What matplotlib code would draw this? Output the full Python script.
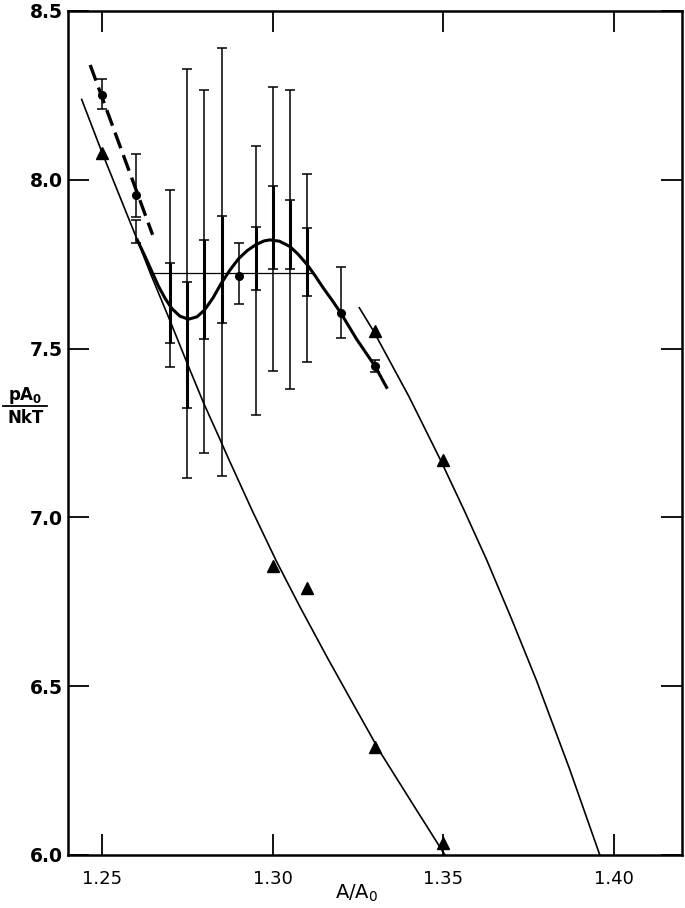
import matplotlib.pyplot as plt
from matplotlib.lines import Line2D

plt.rcParams['font.family'] = 'DejaVu Sans'
plt.rcParams['mathtext.default'] = 'regular'

# %% data
# circles (with error bars)
circ_x  = [1.25, 1.26, 1.29, 1.32, 1.33]
circ_y  = [8.25, 7.955, 7.715, 7.605, 7.448]
circ_lo = [8.21, 7.89, 7.632, 7.532, 7.43]
circ_hi = [8.30, 8.076, 7.814, 7.743, 7.465]

# error bars whose points are hidden under the curves
bar_x    = [1.26, 1.27, 1.275, 1.28, 1.285, 1.295, 1.30, 1.305, 1.31]
outer_lo = [7.812, 7.446, 7.117, 7.19, 7.123, 7.303, 7.435, 7.38, 7.461]
outer_hi = [7.88, 7.970, 8.328, 8.266, 8.39, 8.10, 8.275, 8.266, 8.017]

inner_x  = [1.27, 1.275, 1.28, 1.285, 1.295, 1.30, 1.305, 1.31]
inner_lo = [7.517, 7.324, 7.528, 7.576, 7.674, 7.737, 7.736, 7.657]
inner_hi = [7.754, 7.697, 7.822, 7.893, 7.86, 7.982, 7.94, 7.857]

# triangles
tri1_x = [1.25, 1.30, 1.31, 1.33, 1.35]
tri1_y = [8.08, 6.855, 6.79, 6.32, 6.035]
tri2_x = [1.33, 1.35]
tri2_y = [7.553, 7.17]

# drawn curves
dash_x = [1.2465, 1.2648]
dash_y = [8.34, 7.837]

loop_x = [1.2603, 1.2625, 1.2645, 1.2665, 1.2685, 1.2705, 1.2728, 1.2753, 1.2778,
          1.2800, 1.2825, 1.2849, 1.2875, 1.2899, 1.2925, 1.2951, 1.2975, 1.2992,
          1.3020, 1.3051, 1.3075, 1.3100, 1.3125, 1.3148, 1.3175, 1.3200, 1.3246,
          1.3300, 1.3334]
loop_y = [7.822, 7.775, 7.730, 7.685, 7.648, 7.618, 7.596, 7.587, 7.594,
          7.614, 7.650, 7.693, 7.733, 7.765, 7.790, 7.808, 7.819, 7.822,
          7.818, 7.802, 7.779, 7.750, 7.715, 7.680, 7.642, 7.605, 7.528,
          7.448, 7.385]

left_x = [1.2440, 1.2497, 1.2603, 1.2641, 1.2700, 1.2748, 1.2797, 1.2846, 1.2870,
          1.2940, 1.3011, 1.3080, 1.3160, 1.3240, 1.3315, 1.3410, 1.3505]
left_y = [8.238, 8.088, 7.822, 7.724, 7.580, 7.460, 7.340, 7.230, 7.175,
          7.020, 6.870, 6.735, 6.585, 6.440, 6.305, 6.152, 6.000]

right_x = [1.3254, 1.3295, 1.3400, 1.3492, 1.3560, 1.3627, 1.3700, 1.3773, 1.3870, 1.3959]
right_y = [7.621, 7.553, 7.357, 7.170, 7.024, 6.875, 6.700, 6.518, 6.256, 6.000]

tie_x = [1.2641, 1.3115]
tie_y = [7.724, 7.724]

xticks = [1.25, 1.30, 1.35, 1.40]
yticks = [6.0, 6.5, 7.0, 7.5, 8.0, 8.5]

# %% plotting
fig = plt.figure(figsize=(6.85, 9.08), dpi=100)
ax = fig.add_axes([0.0993, 0.0584, 0.8963, 0.9295])

ax.plot(dash_x, dash_y, color='black', lw=2.4, ls=(0, (5, 2.2)))
ax.plot(loop_x, loop_y, color='black', lw=2.2, solid_joinstyle='round')
ax.plot(left_x, left_y, color='black', lw=1.2, solid_joinstyle='round')
ax.plot(right_x, right_y, color='black', lw=1.2, solid_joinstyle='round')
ax.plot(tie_x, tie_y, color='black', lw=0.9)

# outer error bars
mid = [(a + b) / 2 for a, b in zip(outer_lo, outer_hi)]
half = [(b - a) / 2 for a, b in zip(outer_lo, outer_hi)]
ax.errorbar(bar_x, mid, yerr=half, fmt='none', ecolor='black',
            elinewidth=1.1, capsize=3.5, capthick=1.1)
# inner error bars (heavier)
mid = [(a + b) / 2 for a, b in zip(inner_lo, inner_hi)]
half = [(b - a) / 2 for a, b in zip(inner_lo, inner_hi)]
ax.errorbar(inner_x, mid, yerr=half, fmt='none', ecolor='black',
            elinewidth=2.2, capsize=3.5, capthick=1.1)

# circles
err = [[y - lo for y, lo in zip(circ_y, circ_lo)],
       [hi - y for y, hi in zip(circ_y, circ_hi)]]
ax.errorbar(circ_x, circ_y, yerr=err, fmt='o', color='black', ms=5.5,
            elinewidth=1.1, capsize=3.5, capthick=1.1)

ax.plot(tri1_x, tri1_y, '^', color='black', ms=8.5, ls='none')
ax.plot(tri2_x, tri2_y, '^', color='black', ms=8.5, ls='none')

ax.set_xlim(1.240, 1.420)
ax.set_ylim(6.0, 8.5)
ax.set_xticks(xticks)
ax.set_xticklabels(['%.2f' % v for v in xticks], fontsize=13)
ax.set_yticks(yticks)
ax.set_yticklabels(['%.1f' % v for v in yticks], fontsize=13.5, fontweight='bold')

ax.tick_params(direction='in', length=15, width=1.3, top=True, right=True)
ax.tick_params(axis='x', pad=11)
ax.tick_params(axis='y', pad=4)
for s in ax.spines.values():
    s.set_linewidth(1.8)

ax.set_xlabel('A/A$_0$', fontsize=14, va='center')
ax.xaxis.set_label_coords(0.47, -0.045)

# y label drawn as a stacked fraction
fig.text(0.037, 1 - 395 / 908, 'pA$_0$', fontsize=12, fontweight='bold',
         ha='center', va='center')
fig.text(0.037, 1 - 418 / 908, 'NkT', fontsize=12, fontweight='bold',
         ha='center', va='center')
fig.add_artist(Line2D([0.005, 0.068], [1 - 406 / 908, 1 - 406 / 908],
                      color='black', lw=1.3, transform=fig.transFigure))

plt.savefig('out.png', dpi=100)
plt.close('all')
